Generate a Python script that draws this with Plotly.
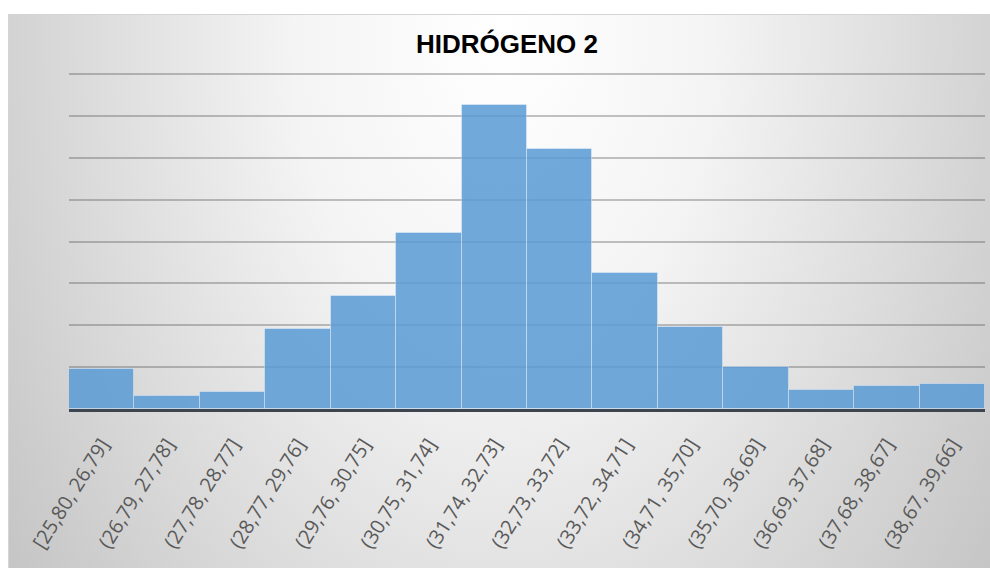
import base64
import plotly.graph_objects as go

# ---- data ----
bins = ["[25,80, 26,79]", "(26,79, 27,78]", "(27,78, 28,77]", "(28,77, 29,76]",
        "(29,76, 30,75]", "(30,75, 31,74]", "(31,74, 32,73]", "(32,73, 33,72]",
        "(33,72, 34,71]", "(34,71, 35,70]", "(35,70, 36,69]", "(36,69, 37,68]",
        "(37,68, 38,67]", "(38,67, 39,66]"]
counts = [19, 6, 8, 38, 54, 84, 145, 124, 65, 39, 20, 9, 11, 12]
title_text = "HIDRÓGENO 2"

# ---- layout geometry (pixels) ----
W, H = 990, 568
L, R, T, B = 69, 5, 72, 159
pw, ph = W - L - R, H - T - B

# background gradient as svg image
svg = f'''<svg xmlns="http://www.w3.org/2000/svg" width="982" height="554" viewBox="0 0 982 554">
<defs>
<radialGradient id="g" gradientUnits="userSpaceOnUse" cx="495" cy="20" r="600"
 gradientTransform="translate(495 20) scale(1 1.5) translate(-495 -20)">
<stop offset="0" stop-color="#ffffff"/>
<stop offset="0.35" stop-color="#f4f4f4"/>
<stop offset="1" stop-color="#c6c6c6"/>
</radialGradient>
</defs>
<rect x="0" y="0" width="982" height="554" fill="url(#g)"/>
<rect x="0.5" y="0.5" width="990" height="560" fill="none" stroke="#d4d4d4" stroke-width="1"/>
</svg>'''
src = "data:image/svg+xml;base64," + base64.b64encode(svg.encode()).decode()

fig = go.Figure()
fig.add_trace(go.Bar(
    x=bins, y=counts,
    marker=dict(color="rgba(91,155,213,0.86)",
                line=dict(color="rgba(255,255,255,0.35)", width=1)),
    hoverinfo="x+y",
))

img_x = (8 - L) / pw
img_y = (H - B - 14) / ph
fig.add_layout_image(dict(
    source=src, xref="paper", yref="paper",
    x=img_x, y=img_y, sizex=(W - 8) / pw, sizey=(H - 14) / ph,
    sizing="stretch", layer="below", xanchor="left", yanchor="top",
))

fig.update_layout(
    width=W, height=H,
    margin=dict(l=L, r=R, t=T, b=B, pad=0, autoexpand=False),
    paper_bgcolor="white",
    plot_bgcolor="rgba(0,0,0,0)",
    bargap=0,
    showlegend=False,
    title=dict(text="<b>" + title_text + "</b>", x=507 / W, xref="container",
               xanchor="center", y=1 - 44 / H, yref="container", yanchor="middle",
               font=dict(family="Liberation Sans, Arial", size=26, color="#000000")),
    xaxis=dict(
        type="category", range=[-0.5, len(bins) - 0.5], automargin=False,
        showgrid=False, showline=True, linecolor="#3d4650", linewidth=3,
        tickangle=-58, ticks="outside", ticklen=13, tickcolor="rgba(0,0,0,0)",
        tickfont=dict(family="Open Sans", size=20, color="#595959"),
    ),
    yaxis=dict(
        range=[0, 161], dtick=20, showticklabels=False, zeroline=False,
        automargin=False,
        showgrid=True, gridcolor="rgba(80,80,80,0.34)", gridwidth=2,
        showline=False, ticks="",
    ),
)

fig.write_html("out.html", config={"displayModeBar": False},
               post_script="document.body.style.margin='0';document.body.style.overflow='hidden';")
